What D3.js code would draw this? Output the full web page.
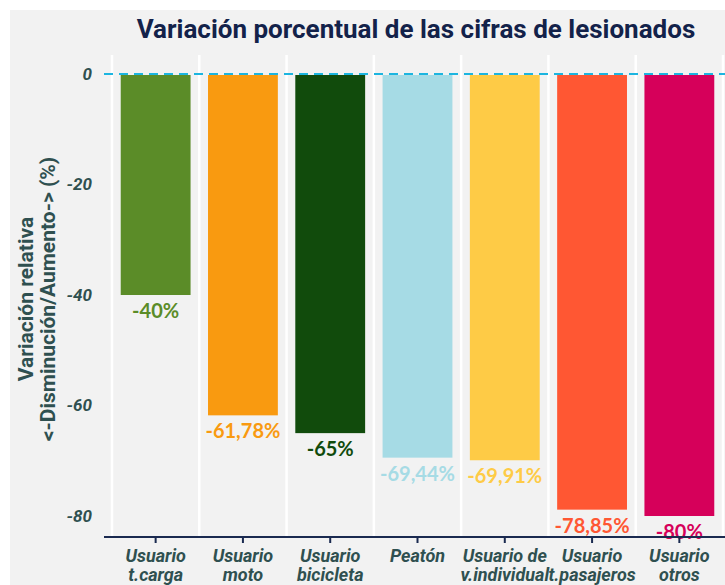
<!DOCTYPE html>
<html><head><meta charset="utf-8">
<script src="https://cdn.jsdelivr.net/npm/d3@7"></script>
<style>
html,body{margin:0;padding:0;background:#fff;}
svg{display:block;}
</style></head>
<body>
<svg id="chart" width="725" height="585"></svg>
<script>
const categories = [["Usuario","t.carga"],["Usuario","moto"],["Usuario","bicicleta"],["Peatón"],["Usuario de","v.individual"],["Usuario","t.pasajeros"],["Usuario","otros"]];
const values = [-40, -61.78, -65, -69.44, -69.91, -78.85, -80];
const valueLabels = ["-40%","-61,78%","-65%","-69,44%","-69,91%","-78,85%","-80%"];
const colors = ["#5b8c28","#f99a10","#114b0c","#a6dbe5","#fecb46","#ff5733","#d6005a"];
const yTicks = [0,-20,-40,-60,-80];

(function(){
const svg = d3.select("#chart");
const W = 725, H = 585;
svg.append("rect").attr("x",10).attr("y",10).attr("width",W-10).attr("height",H-10).attr("fill","#f2f2f2");

const mLeft = 112, mRight = 723, mTop = 74, mBottom = 537;
const x = d3.scaleBand().domain(d3.range(categories.length)).range([mLeft,mRight]).paddingInner(0.2).paddingOuter(0.1);
const y = d3.scaleLinear().domain([0,-83.8]).range([mTop,mBottom]);

const step = x.step();
const bounds = d3.range(categories.length+1).map(i => mLeft + i*step);
svg.append("g").selectAll("line").data(bounds).join("line")
  .attr("x1",d=>d).attr("x2",d=>d).attr("y1",55).attr("y2",mBottom)
  .attr("stroke","#ffffff").attr("stroke-width",2.5);

svg.append("g").selectAll("rect").data(values).join("rect")
  .attr("x",(d,i)=>x(i))
  .attr("y",y(0)+1)
  .attr("width",x.bandwidth())
  .attr("height",d=>y(d)-y(0)-1)
  .attr("fill",(d,i)=>colors[i]);

svg.append("line").attr("x1",104).attr("x2",W).attr("y1",y(0)).attr("y2",y(0))
  .attr("stroke","#1cb5e0").attr("stroke-width",2).attr("stroke-dasharray","9,6");

svg.append("g").selectAll("text").data(values).join("text")
  .attr("x",(d,i)=>x(i)+x.bandwidth()/2)
  .attr("y",d=>y(d)+23)
  .attr("text-anchor","middle")
  .attr("font-family","Lato, sans-serif").attr("font-weight","bold").attr("font-size",20)
  .attr("fill",(d,i)=>colors[i])
  .text((d,i)=>valueLabels[i]);

const yAxis = d3.axisLeft(y).tickValues(yTicks).tickSize(0).tickPadding(0).tickFormat(d=>String(d));
const gy = svg.append("g").attr("transform","translate(92,0)").call(yAxis);
gy.select(".domain").remove();
gy.selectAll("text").attr("font-family","Roboto, sans-serif").attr("font-weight","bold")
  .attr("font-style","italic").attr("font-size",17).attr("fill","#2f5050");

const gx = svg.append("g").attr("transform",`translate(0,${mBottom})`);
gx.append("line").attr("x1",104).attr("x2",W).attr("y1",0).attr("y2",0).attr("stroke","#1a2a50").attr("stroke-width",2);
const ticks = gx.selectAll("g.t").data(categories).join("g").attr("class","t")
  .attr("transform",(d,i)=>`translate(${x(i)+x.bandwidth()/2},0)`);
ticks.append("line").attr("y1",0).attr("y2",6).attr("stroke","#1a2a50").attr("stroke-width",2);
ticks.append("text").attr("text-anchor","middle")
  .attr("font-family","Roboto, sans-serif").attr("font-weight","bold").attr("font-style","italic")
  .attr("font-size",18).attr("fill","#2f5050")
  .selectAll("tspan").data(d=>d).join("tspan")
  .attr("x",0).attr("y",(d,i)=>25+i*19).text(d=>d);

const yt = svg.append("text").attr("transform","translate(0,299) rotate(-90)")
  .attr("text-anchor","middle").attr("font-family","Roboto, sans-serif").attr("font-weight","bold")
  .attr("font-size",21).attr("fill","#2f5050");
yt.append("tspan").attr("x",0).attr("y",33).text("Variación relativa");
yt.append("tspan").attr("x",0).attr("y",55).text("<-Disminución/Aumento-> (%)");

svg.append("text").attr("x",416).attr("y",38).attr("text-anchor","middle")
  .attr("font-family","Roboto, sans-serif").attr("font-weight","bold").attr("font-size",26)
  .attr("fill","#13224a").text("Variación porcentual de las cifras de lesionados");
})();
</script>
</body></html>
